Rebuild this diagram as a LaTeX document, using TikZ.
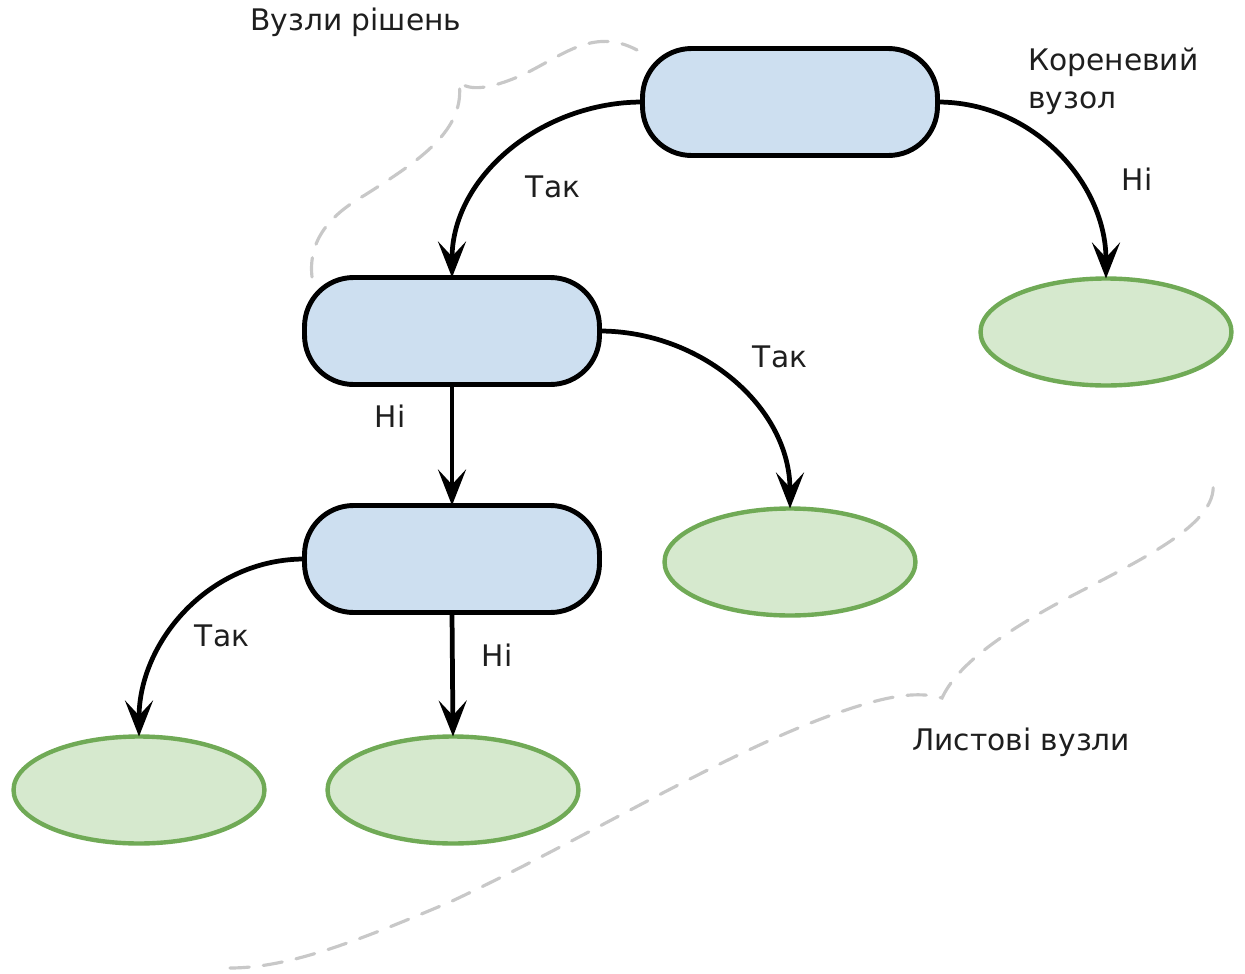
\documentclass[tikz,border=0pt]{standalone}
\usepackage{fontspec}
\setmainfont{DejaVu Sans}
\usetikzlibrary{shapes.geometric,arrows.meta}

\definecolor{decfill}{RGB}{205,223,240}
\definecolor{leaffill}{RGB}{214,233,206}
\definecolor{leafdraw}{RGB}{112,170,86}
\definecolor{bracegray}{RGB}{200,200,200}
\definecolor{txt}{RGB}{30,30,30}

\tikzset{
  decision/.style={draw=black, line width=2.8pt, fill=decfill, rectangle,
    rounded corners=0.98cm, minimum width=5.9cm, minimum height=2.14cm,
    inner sep=0pt, outer sep=0pt},
  leaf/.style={draw=leafdraw, line width=2.5pt, fill=leaffill, ellipse,
    minimum width=5.02cm, minimum height=2.14cm, inner sep=0pt, outer sep=0pt},
  branch/.style={line width=2.7pt, -{Stealth[length=0.72cm, width=0.56cm, inset=0.3cm]}},
  lbl/.style={text=txt, font=\fontsize{16.9}{21.5}\selectfont, inner sep=0pt},
  brace/.style={draw=bracegray, line width=1.8pt, dash pattern=on 11pt off 8pt, line cap=round}
}

\begin{document}
\begin{tikzpicture}[x=0.02cm, y=-0.02cm]
  \useasboundingbox (0,0) rectangle (1245,974);

  % decision nodes
  \node[decision] (root) at (790,102) {};
  \node[decision] (d2)   at (452,331) {};
  \node[decision] (d3)   at (452,559) {};

  % leaf nodes
  \node[leaf] (l1) at (1106,332) {};
  \node[leaf] (l2) at (790,562) {};
  \node[leaf] (l3) at (139,790) {};
  \node[leaf] (l4) at (453,790) {};

  % branches
  \draw[branch] (root.west) to[out=180,in=90] (d2.north);
  \draw[branch] (root.east) to[out=0,in=90] (l1.north);
  \draw[branch] (d2.east) to[out=0,in=90] (l2.north);
  \draw[branch] (d2.south) -- (d3.north);
  \draw[branch] (d3.west) to[out=180,in=90] (l3.north);
  \draw[branch] (d3.south) -- (l4.north);

  % branch labels
  \node[lbl] (t1) at (553,187) {Так};
  \node[lbl] (n1) at (1137,179) {Ні};
  \node[lbl] (t2) at (780,357) {Так};
  \node[lbl] (n2) at (390,416) {Ні};
  \node[lbl] (t3) at (222,636) {Так};
  \node[lbl] (n3) at (497,655) {Ні};

  % group captions
  \node[lbl, anchor=west] (cap1) at (250,22) {Вузли рішень};
  \node[lbl, anchor=north west, align=left] (cap2) at (1028,48) {Кореневий\\вузол};
  \node[lbl, anchor=west] (cap3) at (912,742) {Листові вузли};

  % dashed braces
  \draw[brace] (312,277) .. controls (308,240) and (330,215) .. (365,195)
               .. controls (420,160) and (466,130) .. (459,82)
               .. controls (470,92) and (492,88) .. (520,76)
               .. controls (560,58) and (592,26) .. (637,50);
  \draw[brace] (230,968) .. controls (290,968) and (360,940) .. (450,902)
               .. controls (600,832) and (760,730) .. (880,700)
               .. controls (905,694) and (925,693) .. (942,698)
               .. controls (955,670) and (990,640) .. (1060,602)
               .. controls (1140,560) and (1218,525) .. (1213,483);
\end{tikzpicture}
\end{document}
